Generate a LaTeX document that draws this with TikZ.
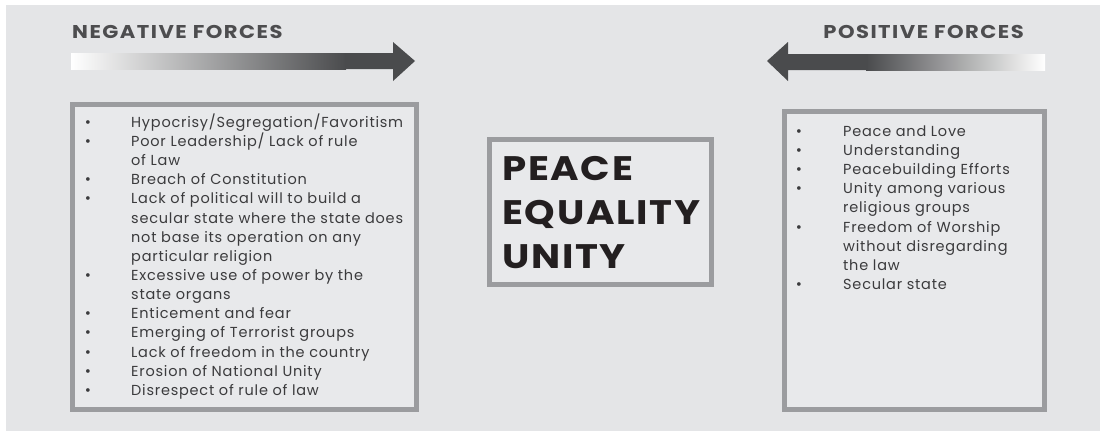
\documentclass[tikz,border=0pt]{standalone}
\usepackage{graphicx}
\usepackage{fontspec}
\setmainfont{Poppins}
\definecolor{bg}{HTML}{E4E5E7}
\definecolor{boxfill}{HTML}{E8E9EB}
\definecolor{boxline}{HTML}{9B9C9F}
\definecolor{arrowdark}{HTML}{4A4B4D}
\definecolor{titlecol}{HTML}{4D4D4F}
\definecolor{bodycol}{HTML}{3B3B3D}
\definecolor{bigcol}{HTML}{231F20}
\newcommand{\wide}[1]{\scalebox{1.14}[1]{#1}}
\tikzset{
  panel/.style={draw=boxline, line width=5pt, fill=boxfill, inner sep=0pt},
  title/.style={font=\fontsize{18.5}{20}\selectfont\bfseries\addfontfeatures{LetterSpace=7}, text=titlecol, inner sep=0pt},
  item/.style={font=\fontsize{14.5}{16}\selectfont\addfontfeatures{LetterSpace=5.3}, text=bodycol, inner sep=0pt, anchor=base west},
  bul/.style={font=\fontsize{15}{16}\selectfont, text=bodycol, inner sep=0pt, anchor=base},
  big/.style={font=\fontsize{34}{36}\selectfont\bfseries\addfontfeatures{LetterSpace=4.3}, text=bigcol, inner sep=0pt, anchor=base west}
}
\begin{document}
\begin{tikzpicture}[x=1pt,y=-1pt]
\useasboundingbox (0,0) rectangle (1100,431);
\fill[white] (0,0) rectangle (1100,431);
\fill[bg] (6,5) rectangle (1100,431);
% titles
\node[title, anchor=base west] (negT) at (72,38) {\wide{NEGATIVE FORCES}};
\node[title, anchor=base east] (posT) at (1024,38) {\wide{POSITIVE FORCES}};
% arrows
\shade[left color=white, right color=arrowdark] (71,53) rectangle (346,69);
\fill[arrowdark] (345,53) -- (393,53) -- (393,42) -- (415,61) -- (393,81) -- (393,69) -- (345,69) -- cycle;
\shade[left color=arrowdark, right color=white] (866,54) rectangle (1045,70);
\fill[arrowdark] (867,54) -- (788,54) -- (788,42) -- (767,61) -- (788,81) -- (788,70) -- (867,70) -- cycle;
% boxes
\node[panel, minimum width=344pt, minimum height=305pt] (neg) at (244.5,257) {};
\node[panel, minimum width=260pt, minimum height=298pt] (pos) at (914.5,260.5) {};
\node[panel, minimum width=222pt, minimum height=145pt] (mid) at (600.5,212) {};
% left list
\foreach \t [count=\i] in {Hypocrisy/Segregation/Favoritism, Poor Leadership/ Lack of rule, of Law, Breach of Constitution, Lack of political will to build a, secular state where the state does, not base its operation on any, particular religion, Excessive use of power by the, state organs, Enticement and fear, Emerging of Terrorist groups, Lack of freedom in the country, Erosion of National Unity, Disrespect of rule of law}
  \node[item] (nl\i) at (131,{127.3+(\i-1)*19.15}) {\t};
\foreach \i in {1,2,4,5,9,11,12,13,14,15}
  \node[bul] (nb\i) at (88,{127.3+(\i-1)*19.15}) {•};
% right list
\foreach \t [count=\i] in {Peace and Love, Understanding, Peacebuilding Efforts, Unity among various, religious groups, Freedom of Worship, without disregarding, the law, Secular state}
  \node[item] (pl\i) at (843,{136.5+(\i-1)*19.1}) {\t};
\foreach \i in {1,2,3,4,6,9}
  \node[bul] (pb\i) at (799,{136.5+(\i-1)*19.1}) {•};
% centre
\node[big] (c1) at (502,180) {\wide{PEACE}};
\node[big] (c2) at (502,224) {\wide{EQUALITY}};
\node[big] (c3) at (502,268) {\wide{UNITY}};
\end{tikzpicture}
\end{document}
